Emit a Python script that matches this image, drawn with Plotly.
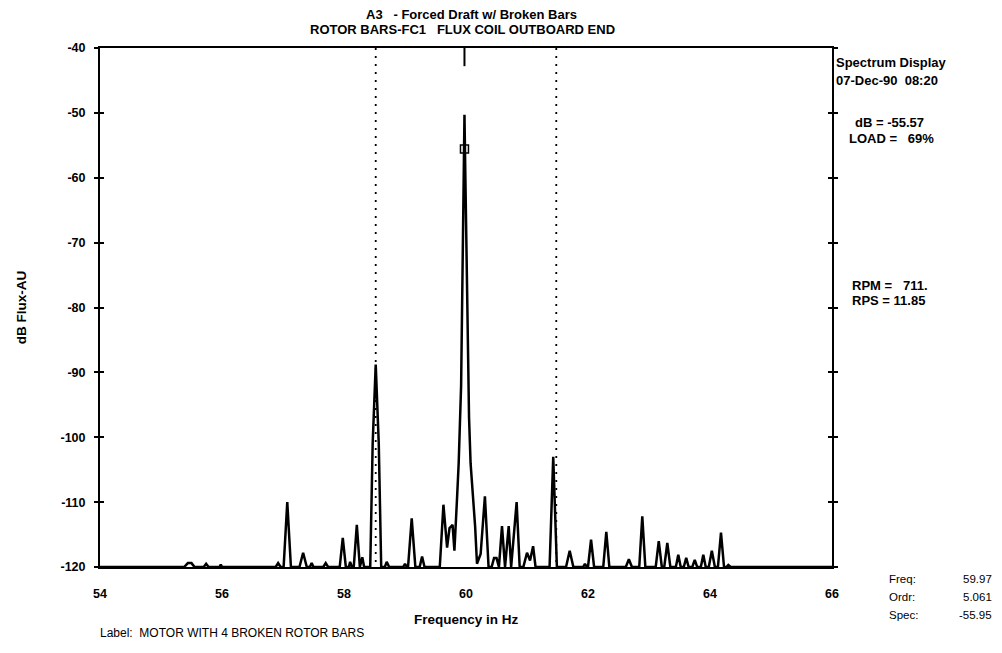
import plotly.graph_objects as go

# Spectrum data (Hz, dB Flux-AU)
freq = [54.00, 55.38, 55.44, 55.50, 55.55, 55.70, 55.74, 55.78, 55.96, 55.98, 56.00,
        56.88, 56.92, 56.96, 57.01, 57.07, 57.13, 57.27, 57.33, 57.39, 57.44, 57.47, 57.50,
        57.66, 57.70, 57.74, 57.93, 57.98, 58.03, 58.08, 58.10, 58.13, 58.16, 58.21, 58.26,
        58.30, 58.33, 58.43, 58.47, 58.52, 58.57, 58.61, 58.67, 58.70, 58.74, 58.97, 59.00,
        59.03, 59.05, 59.11, 59.17, 59.24, 59.28, 59.32, 59.57, 59.63, 59.69, 59.73, 59.78,
        59.81, 59.85, 59.88, 59.92, 59.945, 59.96, 59.975, 59.99, 60.02, 60.05, 60.075, 60.11,
        60.15, 60.18, 60.24, 60.31, 60.37, 60.42, 60.46, 60.50, 60.54, 60.59, 60.64, 60.70,
        60.74, 60.83, 60.88, 60.94, 61.00, 61.05, 61.10, 61.14, 61.37, 61.43, 61.49, 61.64,
        61.70, 61.76, 61.92, 61.95, 61.98, 62.00, 62.05, 62.10, 62.25, 62.30, 62.35, 62.62,
        62.67, 62.72, 62.84, 62.89, 62.94, 63.11, 63.16, 63.21, 63.25, 63.30, 63.35, 63.44,
        63.48, 63.52, 63.57, 63.61, 63.65, 63.71, 63.75, 63.79, 63.85, 63.89, 63.93, 63.98,
        64.03, 64.08, 64.13, 64.18, 64.23, 64.27, 64.30, 64.34, 66.00]
db = [-120, -120, -119.4, -119.4, -120, -120, -119.5, -120, -120, -119.6, -120,
      -120, -119.4, -120, -120, -110.0, -120, -120, -117.8, -120, -120, -119.4, -120,
      -120, -119.4, -120, -120, -115.5, -120, -120, -119.2, -120, -120, -113.5, -120,
      -118.5, -120, -120, -101, -88.8, -101, -120, -120, -119.2, -120, -120, -119.5,
      -120, -120, -112.5, -120, -120, -118.4, -120, -120, -110.4, -117.0, -114.0, -113.5,
      -117.5, -110, -104, -92, -75, -58, -50.3, -60, -80, -97, -104, -108,
      -113.8, -119.5, -118.0, -109.1, -120, -120, -118.6, -118.6, -120, -113.7, -120, -113.7,
      -120, -110.0, -120, -120, -117.8, -119.0, -116.8, -120, -120, -103.0, -120, -120,
      -117.5, -120, -120, -119.5, -120, -120, -115.8, -120, -120, -114.6, -120, -120,
      -118.8, -120, -120, -112.2, -120, -120, -116.0, -120, -120, -116.3, -120, -120,
      -118.1, -120, -120, -118.6, -120, -120, -118.9, -120, -120, -118.1, -120, -120,
      -117.5, -120, -120, -114.7, -120, -120, -119.7, -120, -120]

sideband_freqs = [58.52, 61.48]
cursor_freq = [59.975]
cursor_db = [-55.57]
x_ticks = [54, 56, 58, 60, 62, 64, 66]
y_ticks = [-40, -50, -60, -70, -80, -90, -100, -110, -120]

FONT = "Liberation Sans, Arial, sans-serif"
NB = "\u00a0"

fig = go.Figure()

# dotted sideband markers
for f in sideband_freqs:
    fig.add_trace(go.Scatter(x=[f, f], y=[-40, -120], mode="lines",
                             line=dict(color="black", width=1.8, dash="2px,6px"),
                             showlegend=False, hoverinfo="skip"))

# cursor ticks at top and bottom
fig.add_trace(go.Scatter(x=[cursor_freq[0], cursor_freq[0]], y=[-40, -42.8], mode="lines",
                         line=dict(color="black", width=2), showlegend=False, hoverinfo="skip"))
fig.add_trace(go.Scatter(x=[cursor_freq[0], cursor_freq[0]], y=[-120, -121.2], mode="lines",
                         line=dict(color="black", width=1.5), showlegend=False, hoverinfo="skip",
                         cliponaxis=False))

fig.add_trace(go.Scatter(x=freq, y=db, mode="lines", line=dict(color="black", width=2.5),
                         showlegend=False))

fig.add_trace(go.Scatter(x=cursor_freq, y=cursor_db, mode="markers",
                         marker=dict(symbol="square-open", size=8, color="black",
                                     line=dict(width=1.5)),
                         showlegend=False))

fig.update_layout(
    width=986, height=637,
    margin=dict(l=92, r=162, t=40, b=78),
    paper_bgcolor="white", plot_bgcolor="white",
    font=dict(family=FONT, color="black"),
    xaxis=dict(range=[54, 66], tickvals=x_ticks, ticktext=[str(v) for v in x_ticks],
               showgrid=False, zeroline=False, showline=True, linecolor="black", linewidth=1.5,
               mirror=True, ticks="", tickfont=dict(size=12.5, family=FONT, weight="bold"),
               ticklabelstandoff=14),
    yaxis=dict(range=[-120, -40], tickvals=y_ticks, ticktext=[str(v) for v in y_ticks],
               showgrid=False, zeroline=False, showline=True, linecolor="black", linewidth=2,
               mirror="ticks", ticks="outside", ticklen=4, tickwidth=1.5, tickcolor="black",
               tickfont=dict(size=12.5, family=FONT, weight="bold"), ticklabelstandoff=6),
    yaxis2=dict(range=[-120, -40], tickvals=y_ticks, overlaying="y", side="left",
                showgrid=False, zeroline=False, showline=False, mirror="ticks",
                ticks="inside", ticklen=4, tickwidth=1.5, tickcolor="black",
                showticklabels=False),
)
# invisible trace to activate yaxis2
fig.add_trace(go.Scatter(x=[54], y=[-120], yaxis="y2", mode="markers",
                         marker=dict(opacity=0), showlegend=False, hoverinfo="skip"))

def ann(text, x, y, xanchor="left", size=12, bold=True, angle=0):
    fig.add_annotation(text=text, x=x, y=y, xref="paper", yref="paper",
                       xanchor=xanchor, yanchor="middle", showarrow=False,
                       textangle=angle,
                       font=dict(size=size, family=FONT, color="black",
                                 weight="bold" if bold else "normal"))

ann("A3" + NB * 3 + "- Forced Draft w/ Broken Bars", 0.507, 1.0655, "center", 13)
ann("ROTOR BARS-FC1" + NB * 3 + "FLUX COIL OUTBOARD END", 0.495, 1.0347, "center", 13)
ann("dB Flux-AU", -0.107, 0.5, "center", 13.5, angle=-90)
ann("Frequency in Hz", 0.5, -0.102, "center", 13.5)
ann("Spectrum Display", 1.003, 0.973, "left", 13)
ann("07-Dec-90" + NB * 2 + "08:20", 1.003, 0.938, "left", 13)
ann("dB" + NB + "=" + NB + "-55.57", 1.029, 0.857, "left", 13)
ann("LOAD" + NB + "=" + NB * 3 + "69%", 1.021, 0.825, "left", 13)
ann("RPM" + NB + "=" + NB * 3 + "711.", 1.024, 0.543, "left", 13)
ann("RPS" + NB + "=" + NB + "11.85", 1.024, 0.513, "left", 13)
ann("Freq:", 1.075, -0.023, "left", 11.5, bold=False)
ann("Ordr:", 1.075, -0.058, "left", 11.5, bold=False)
ann("Spec:", 1.075, -0.092, "left", 11.5, bold=False)
ann("59.97", 1.221, -0.023, "right", 11.5, bold=False)
ann("5.061", 1.221, -0.058, "right", 11.5, bold=False)
ann("-55.95", 1.221, -0.092, "right", 11.5, bold=False)
ann("Label:" + NB * 2 + "MOTOR WITH 4 BROKEN ROTOR BARS", -0.003, -0.127, "left", 12, bold=False)

fig.write_html("out.html")
